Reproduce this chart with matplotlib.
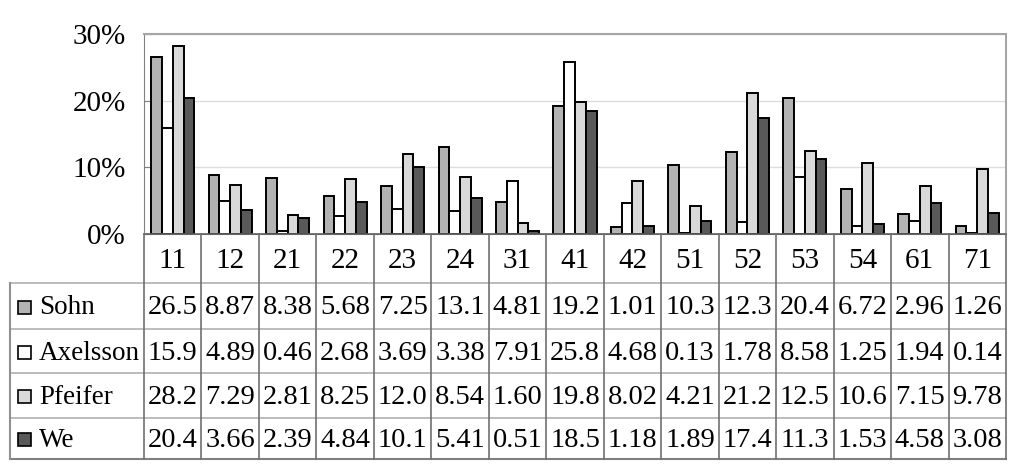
import matplotlib
matplotlib.use("Agg")
import matplotlib.pyplot as plt
from matplotlib.patches import Rectangle
import numpy as np

plt.rcParams['font.family'] = ['Liberation Serif', 'DejaVu Serif']

# categories and series (percent)
categories = ['11', '12', '21', '22', '23', '24', '31', '41', '42', '51', '52', '53', '54', '61', '71']
series_names = ['Sohn', 'Axelsson', 'Pfeifer', 'We']
sohn = [26.5, 8.87, 8.38, 5.68, 7.25, 13.1, 4.81, 19.2, 1.01, 10.3, 12.3, 20.4, 6.72, 2.96, 1.26]
axelsson = [15.9, 4.89, 0.46, 2.68, 3.69, 3.38, 7.91, 25.8, 4.68, 0.13, 1.78, 8.58, 1.25, 1.94, 0.14]
pfeifer = [28.2, 7.29, 2.81, 8.25, 12.0, 8.54, 1.60, 19.8, 8.02, 4.21, 21.2, 12.5, 10.6, 7.15, 9.78]
we = [20.4, 3.66, 2.39, 4.84, 10.1, 5.41, 0.51, 18.5, 1.18, 1.89, 17.4, 11.3, 1.53, 4.58, 3.08]
all_series = [sohn, axelsson, pfeifer, we]
colors = ['#b3b3b3', '#ffffff', '#d9d9d9', '#595959']
yticks = [0, 10, 20, 30]

W, H = 1024, 466
fig = plt.figure(figsize=(W / 100, H / 100), dpi=100)

def box(x0, y0, x1, y1):
    # pixel box (top-left origin) -> figure fraction
    return [x0 / W, 1 - y1 / H, (x1 - x0) / W, (y1 - y0) / H]

plot_l, plot_r, plot_t, plot_b = 144, 1006, 34, 234
ax = fig.add_axes(box(plot_l, plot_t, plot_r, plot_b))
n = len(categories)
x = np.arange(n)
bw = 0.1875
for i, (vals, c) in enumerate(zip(all_series, colors)):
    ax.bar(x + (i - 1.5) * bw, vals, width=bw, color=c, edgecolor='black',
           linewidth=1.4, zorder=3)
ax.set_xlim(-0.5, n - 0.5)
ax.set_ylim(0, 30)
ax.set_yticks(yticks)
ax.set_yticklabels([f'{t}%' for t in yticks], fontsize=21)
ax.tick_params(axis='y', direction='in', length=6, color='#808080', pad=13)
ax.set_xticks([])
for yv in yticks[1:]:
    ax.axhline(yv, color='#dddddd', lw=1, zorder=1)
for s in ['top', 'right']:
    ax.spines[s].set_color('#a6a6a6')
    ax.spines[s].set_linewidth(1.5)
ax.spines['left'].set_color('#808080')
ax.spines['bottom'].set_color('#808080')

# data table below
tab_l, tab_b = 10, 459
row_edges = [234, 283, 329, 373, 418, 459]
tax = fig.add_axes(box(tab_l, plot_b, plot_r, tab_b))
col_px = (plot_r - plot_l) / n
left_x = -0.5 - (plot_l - tab_l) / col_px
tax.set_xlim(left_x, n - 0.5)
tax.set_ylim(tab_b, plot_b)
tax.axis('off')

def fmt(v):
    return f'{v:.1f}' if v >= 10 else f'{v:.2f}'

# horizontal lines
tax.plot([-0.5, n - 0.5], [row_edges[0]] * 2, color='#606060', lw=1.2, clip_on=False)
for ry in row_edges[1:-1]:
    tax.plot([left_x, n - 0.5], [ry, ry], color='#b0b0b0', lw=1.2, clip_on=False)
tax.plot([left_x, n - 0.5], [row_edges[-1]] * 2, color='#808080', lw=1.5, clip_on=False)
# vertical lines
for k in range(n + 1):
    tax.plot([k - 0.5, k - 0.5], [row_edges[0], row_edges[-1]], color='#707070',
             lw=1.2, clip_on=False)
tax.plot([left_x, left_x], [row_edges[1], row_edges[-1]], color='#909090', lw=1.5,
         clip_on=False)

# header
hy = (row_edges[0] + row_edges[1]) / 2
for k, cat in enumerate(categories):
    tax.text(k, hy + 2, cat, ha='center', va='center', fontsize=21)

# rows
key_px = 13
for r, (name, vals, c) in enumerate(zip(series_names, all_series, colors)):
    cy = (row_edges[r + 1] + row_edges[r + 2]) / 2
    tax.add_patch(Rectangle((left_x + 8 / col_px, cy - key_px / 2 + 1), key_px / col_px,
                            key_px, facecolor=c, edgecolor='black', lw=1.2,
                            clip_on=False))
    tax.text(left_x + 29 / col_px, cy + 2, name, ha='left', va='center', fontsize=19.5)
    for k, v in enumerate(vals):
        tax.text(k, cy + 2, fmt(v), ha='center', va='center', fontsize=20.5)

fig.savefig('out.png', dpi=100)
